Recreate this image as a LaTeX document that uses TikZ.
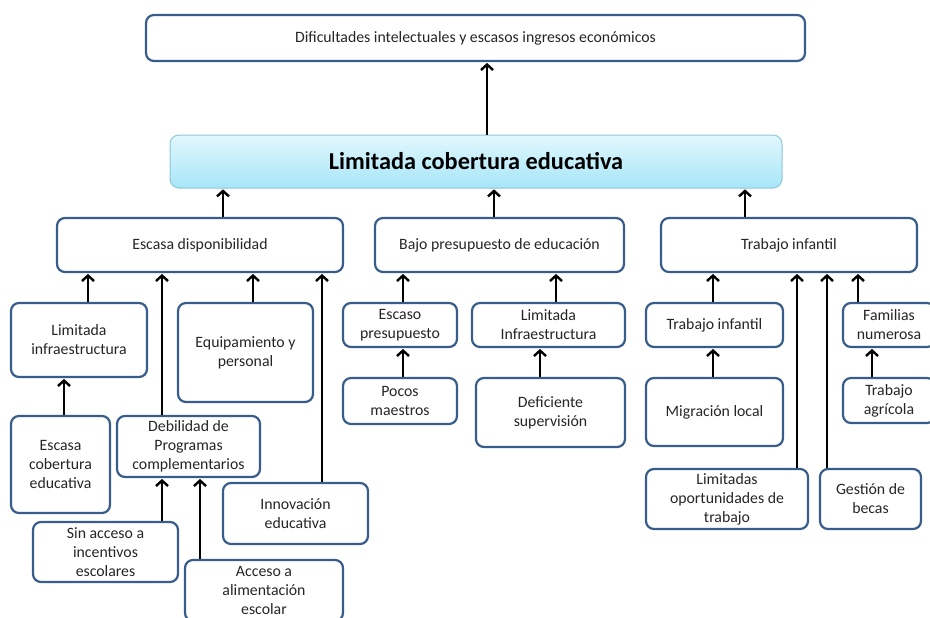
\documentclass[tikz,border=0pt]{standalone}
\usepackage{fontspec}
\setmainfont{Carlito}
\usetikzlibrary{arrows.meta}
\definecolor{bd}{HTML}{385D8A}
\definecolor{txt}{HTML}{262626}
\definecolor{mtop}{HTML}{E2F7FD}
\definecolor{mbot}{HTML}{A6E6F8}
\definecolor{mbd}{HTML}{8EC6D6}
\newcommand\bx[7][]{\node[box,#1,minimum width={#4-#3},minimum height={#6-#5}] (#2) at ({(#3+#4)/2},{(#5+#6)/2}) {#7};}
\begin{document}
\begin{tikzpicture}[x=1pt,y=-1pt,
  box/.style={draw=bd,line width=2.2pt,rounded corners=8pt,fill=white,align=center,
    font=\fontsize{15.8}{19}\selectfont,text=txt,inner sep=1pt},
  arr/.style={line width=2.8pt,-{Straight Barb[length=5.5pt,width=12pt,line width=2.4pt]},shorten >=0.8pt}]
\clip (0,0) rectangle (930,618);
% top and main
\bx[font=\fontsize{15.8}{19}\selectfont]{top}{146}{805}{15}{61}{Dificultades intelectuales y escasos ingresos económicos}
\bx[draw=mbd,line width=1pt,top color=mtop,bottom color=mbot,text=black,font=\fontsize{24.3}{28}\selectfont\bfseries,rounded corners=9pt]{main}{170}{782}{135}{188}{Limitada cobertura educativa}
% level 2
\bx{ed}{57}{343}{218}{272}{Escasa disponibilidad}
\bx{bp}{375}{624}{218}{272}{Bajo presupuesto de educación}
\bx{ti}{661}{917}{218}{272}{Trabajo infantil}
% left branch
\bx{li}{11}{147}{303}{377}{Limitada\\infraestructura}
\bx{eq}{178}{313}{303}{402}{Equipamiento y\\personal}
\bx{ec}{11}{110}{416}{513}{Escasa\\cobertura\\educativa}
\bx{db}{117}{260}{416}{477}{Debilidad de\\Programas\\complementarios}
\bx{sa}{33}{178}{522}{582}{Sin acceso a\\incentivos\\escolares}
\bx{ac}{185}{343}{560}{621}{Acceso a\\alimentación\\escolar}
\bx{in}{223}{368}{483}{544}{Innovación\\educativa}
% middle branch
\bx{es}{343}{457}{303}{347}{Escaso\\presupuesto}
\bx{lf}{472}{625}{303}{347}{Limitada\\Infraestructura}
\bx{pm}{343}{457}{378}{424}{Pocos\\maestros}
\bx{ds}{476}{625}{378}{447}{Deficiente\\supervisión}
% right branch
\bx{ts}{646}{783}{303}{347}{Trabajo infantil}
\bx{ml}{646}{783}{378}{446}{Migración local}
\bx{lo}{646}{808}{469}{529}{Limitadas\\oportunidades de\\trabajo}
\bx{gb}{820}{921}{469}{529}{Gestión de\\becas}
\bx{fn}{843}{935}{303}{347}{Familias\\numerosa}
\bx{ta}{843}{935}{378}{423}{Trabajo\\agrícola}
% arrows
\draw[arr] (487,0 |- main.north) -- (487,0 |- top.south);
\draw[arr] (223,0 |- ed.north) -- (223,0 |- main.south);
\draw[arr] (494,0 |- bp.north) -- (494,0 |- main.south);
\draw[arr] (745,0 |- ti.north) -- (745,0 |- main.south);
\draw[arr] (88,0 |- li.north) -- (88,0 |- ed.south);
\draw[arr] (162,0 |- db.north) -- (162,0 |- ed.south);
\draw[arr] (253,0 |- eq.north) -- (253,0 |- ed.south);
\draw[arr] (322,0 |- in.north) -- (322,0 |- ed.south);
\draw[arr] (64,0 |- ec.north) -- (64,0 |- li.south);
\draw[arr] (162,0 |- sa.north) -- (162,0 |- db.south);
\draw[arr] (200,0 |- ac.north) -- (200,0 |- db.south);
\draw[arr] (403,0 |- es.north) -- (403,0 |- bp.south);
\draw[arr] (556,0 |- lf.north) -- (556,0 |- bp.south);
\draw[arr] (403,0 |- pm.north) -- (403,0 |- es.south);
\draw[arr] (540,0 |- ds.north) -- (540,0 |- lf.south);
\draw[arr] (713,0 |- ts.north) -- (713,0 |- ti.south);
\draw[arr] (713,0 |- ml.north) -- (713,0 |- ts.south);
\draw[arr] (797,0 |- lo.north) -- (797,0 |- ti.south);
\draw[arr] (827,0 |- gb.north) -- (827,0 |- ti.south);
\draw[arr] (858,0 |- fn.north) -- (858,0 |- ti.south);
\draw[arr] (872,0 |- ta.north) -- (872,0 |- fn.south);
\end{tikzpicture}
\end{document}
